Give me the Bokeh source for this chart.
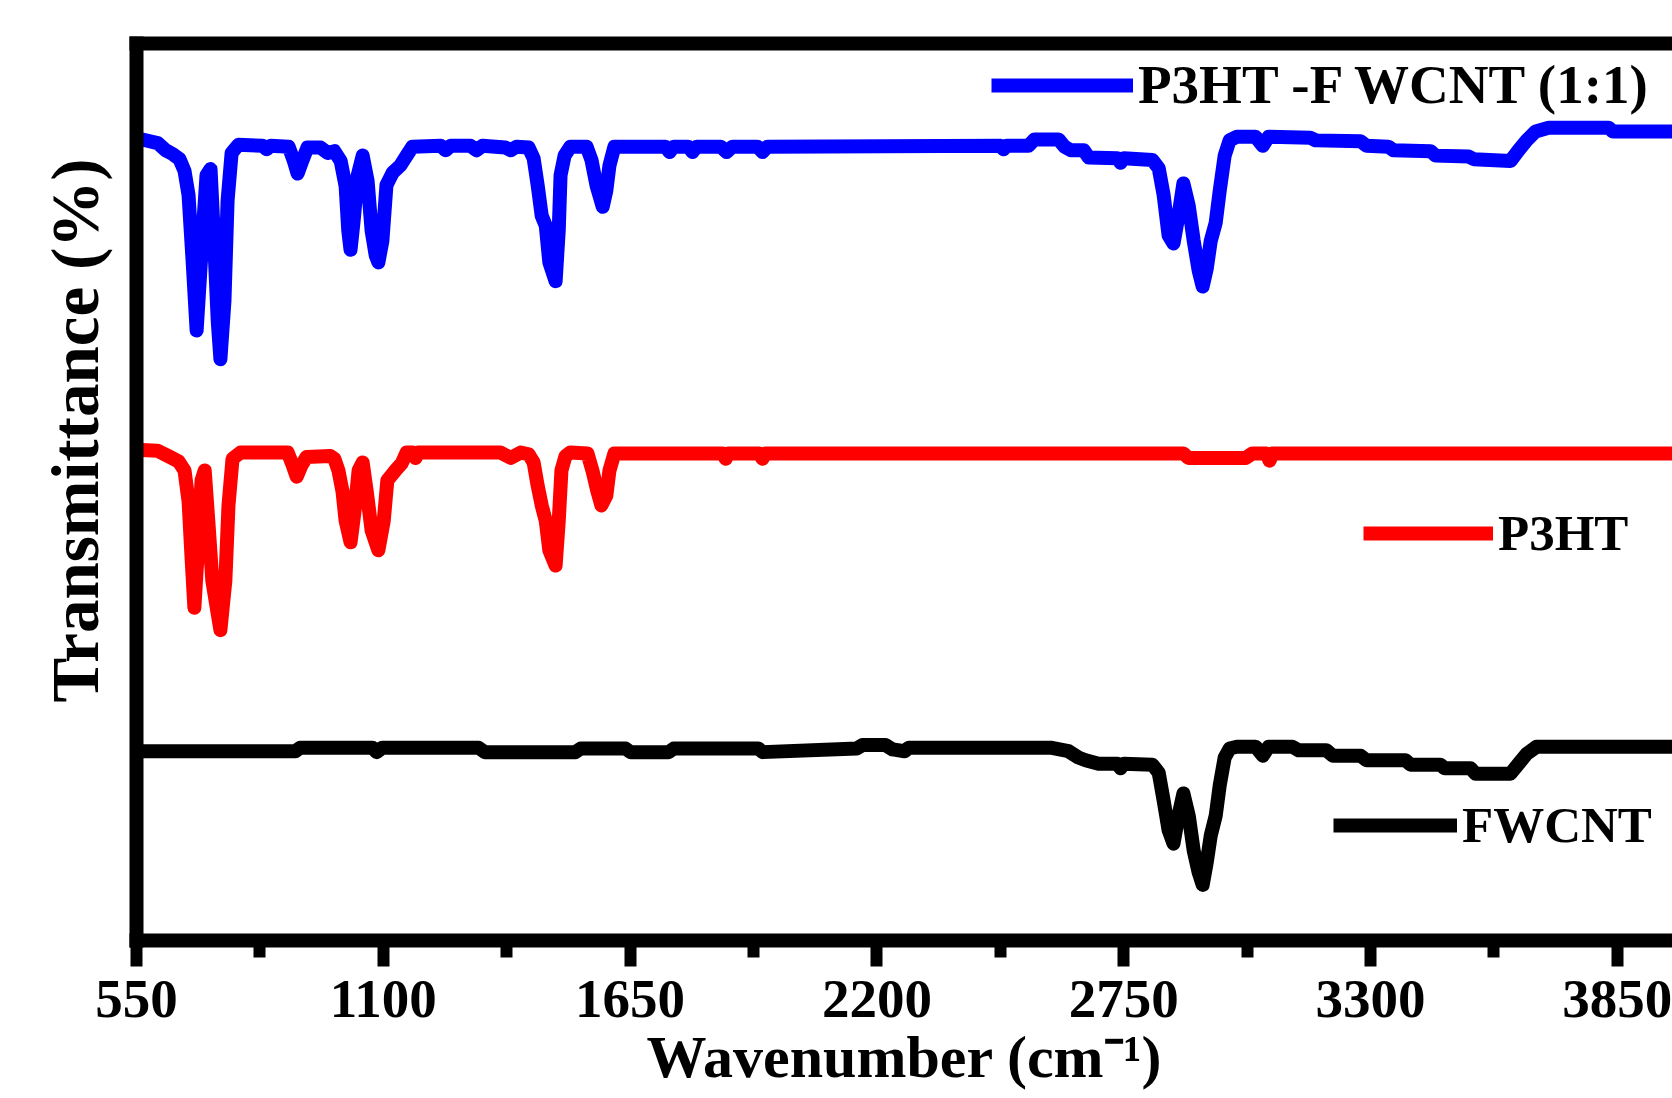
from bokeh.plotting import figure
from bokeh.models import Range1d, FixedTicker, LinearAxis, Legend, LegendItem, Title
from bokeh.embed import file_html
from bokeh.resources import INLINE

# ---------------- data ----------------
major_ticks = [550, 1100, 1650, 2200, 2750, 3300, 3850]
minor_ticks = [825, 1375, 1925, 2475, 3025, 3575]

series_names = ["P3HT -F WCNT (1:1)", "P3HT", "FWCNT"]

wn_composite = [550, 563, 597, 615, 630, 646, 657, 666, 675, 684, 695, 706, 715, 724, 731, 737,
                746, 753, 762, 777, 831, 840, 849, 889, 900, 909, 920, 931, 960, 976, 991, 1005,
                1016, 1022, 1027, 1034, 1043, 1054, 1065, 1074, 1083, 1089, 1098, 1107, 1121, 1138,
                1152, 1165, 1228, 1239, 1250, 1294, 1308, 1321, 1372, 1384, 1397, 1424, 1435, 1444,
                1453, 1462, 1470, 1484, 1491, 1495, 1504, 1517, 1553, 1564, 1575, 1589, 1597, 1604,
                1615, 1729, 1738, 1747, 1780, 1789, 1798, 1852, 1865, 1878, 1934, 1945, 1956, 2476,
                2482, 2489, 2538, 2551, 2605, 2618, 2632, 2661, 2672, 2736, 2743, 2750, 2814, 2828,
                2839, 2850, 2861, 2872, 2883, 2895, 2906, 2917, 2926, 2935, 2944, 2955, 2964, 2975,
                2986, 3002, 3044, 3060, 3073, 3166, 3178, 3278, 3291, 3340, 3351, 3434, 3445, 3519,
                3530, 3612, 3630, 3648, 3668, 3697, 3831, 3840, 3973]
t_composite = [89.0, 89.3, 88.9, 88.1, 87.7, 87.1, 85.8, 83.1, 75.8, 68.0, 76.9, 85.3, 86.0, 76.9, 69.1, 64.8,
               71.3, 82.5, 87.8, 88.7, 88.6, 88.2, 88.6, 88.5, 87.0, 85.5, 87.0, 88.4, 88.4, 87.8, 88.0, 86.9,
               84.1, 79.1, 77.0, 80.3, 85.3, 87.5, 84.7, 79.1, 76.4, 75.6, 78.0, 84.2, 85.6, 86.4,
               87.5, 88.5, 88.6, 88.1, 88.6, 88.6, 88.1, 88.6, 88.4, 88.1, 88.5, 88.4, 87.2, 84.2,
               80.8, 79.7, 75.6, 73.5, 79.2, 85.3, 87.5, 88.5, 88.5, 87.0, 84.2, 81.8, 83.6, 86.4,
               88.5, 88.5, 87.9, 88.5, 88.5, 87.9, 88.5, 88.5, 87.9, 88.5, 88.5, 87.9, 88.5, 88.6,
               88.2, 88.6, 88.6, 89.3, 89.3, 88.5, 88.1, 88.1, 87.3, 87.2, 86.7, 87.2, 87.0, 86.1,
               83.1, 78.6, 77.7, 80.8, 84.4, 81.9, 78.0, 74.7, 72.9, 74.9, 78.0, 80.0, 83.6, 87.5,
               89.2, 89.6, 89.6, 88.6, 89.6, 89.5, 89.2, 89.1, 88.6, 88.5, 88.1, 88.0, 87.5, 87.4,
               87.1, 86.9, 88.1, 89.2, 90.2, 90.6, 90.6, 90.2, 90.2]

wn_p3ht = [550, 597, 621, 644, 657, 666, 673, 679, 688, 695, 702, 710, 719, 737, 748, 755,
           764, 782, 887, 898, 907, 918, 929, 982, 991, 1000, 1009, 1016, 1027, 1036, 1045, 1054,
           1063, 1074, 1089, 1101, 1109, 1127, 1141, 1152, 1165, 1172, 1178, 1361, 1384, 1406,
           1424, 1435, 1444, 1453, 1462, 1470, 1484, 1491, 1497, 1506, 1517, 1555, 1566, 1577,
           1586, 1597, 1604, 1615, 1856, 1863, 1869, 1938, 1945, 1952, 2883, 2894, 3022, 3037,
           3068, 3075, 3082, 3973]
t_p3ht = [54.7, 54.6, 54.0, 53.4, 52.4, 49.0, 42.4, 37.1, 44.6, 51.3, 52.4, 46.8, 40.1, 34.6, 40.1, 48.5,
          53.7, 54.4, 54.4, 53.0, 51.7, 53.0, 53.9, 54.0, 53.7, 52.4, 50.1, 46.8, 44.4, 47.9, 52.4, 53.3,
          50.1, 45.7, 43.5, 46.8, 51.3, 52.4, 53.2, 54.4, 54.4, 53.8, 54.4, 54.4, 53.8, 54.4,
          54.2, 53.3, 50.7, 48.5, 46.8, 43.5, 41.8, 46.8, 52.4, 54.0, 54.4, 54.3, 52.4, 50.1,
          48.5, 49.6, 52.4, 54.3, 54.3, 53.7, 54.3, 54.3, 53.7, 54.3, 54.3, 53.8, 53.8, 54.3,
          54.3, 53.5, 54.3, 54.3]

wn_fwcnt = [550, 904, 915, 1076, 1085, 1098, 1312, 1326, 1528, 1540, 1640, 1651, 1736, 1747, 1936, 1945,
            2155, 2168, 2219, 2235, 2262, 2271, 2587, 2627, 2649, 2665, 2694, 2736, 2743, 2750, 2814, 2828,
            2839, 2850, 2861, 2872, 2883, 2895, 2906, 2917, 2926, 2935, 2944, 2955, 2964, 2975, 2986, 3002,
            3044, 3060, 3073, 3126, 3140, 3202, 3216, 3278, 3291, 3378, 3389, 3456, 3465, 3523, 3534, 3612,
            3630, 3648, 3670, 3973]
t_fwcnt = [21.1, 21.1, 21.5, 21.5, 21.0, 21.5, 21.5, 21.0, 21.0, 21.4, 21.4, 21.0, 21.0, 21.4, 21.4, 21.0,
           21.4, 21.8, 21.8, 21.3, 21.1, 21.5, 21.5, 21.1, 20.4, 20.1, 19.7, 19.7, 19.2, 19.7, 19.6, 18.7,
           15.6, 12.3, 10.8, 13.9, 16.4, 13.9, 10.0, 7.6, 6.2, 8.7, 11.7, 13.9, 17.3, 20.4, 21.4, 21.6,
           21.6, 20.6, 21.6, 21.6, 21.2, 21.2, 20.6, 20.6, 20.1, 20.1, 19.6, 19.6, 19.2, 19.2, 18.6, 18.6,
           19.7, 20.8, 21.6, 21.6]

# ---------------- figure ----------------
FONT = "Liberation Serif"

p = figure(width=1672, height=1098,
           x_range=Range1d(550, 3973), y_range=Range1d(0, 100),
           output_backend="svg", toolbar_location=None,
           min_border_left=136, min_border_right=0,
           min_border_top=43, min_border_bottom=158)
p.outline_line_color = None
p.xgrid.visible = False
p.ygrid.visible = False
p.background_fill_color = "white"
p.border_fill_color = "white"

r_comp = p.line(wn_composite, t_composite, line_color="#0000FF", line_width=14, line_join="round")
r_p3ht = p.line(wn_p3ht, t_p3ht, line_color="#FF0000", line_width=14, line_join="round")
r_fw = p.line(wn_fwcnt, t_fwcnt, line_color="#000000", line_width=14, line_join="round")

# bottom axis
xa = p.xaxis[0]
xa.ticker = FixedTicker(ticks=major_ticks, minor_ticks=minor_ticks)
xa.axis_line_width = 14
xa.axis_line_cap = "square"
xa.major_tick_line_width = 12
xa.major_tick_in = 0
xa.major_tick_out = 26
xa.minor_tick_line_width = 12
xa.minor_tick_in = 0
xa.minor_tick_out = 17
xa.major_label_text_font = FONT
xa.major_label_text_font_style = "bold"
xa.major_label_text_font_size = "55px"
xa.major_label_text_color = "black"
xa.major_label_standoff = 14
xa.axis_label = "Wavenumber (cm\u207b\u00b9)"
xa.axis_label_text_font = FONT
xa.axis_label_text_font_style = "bold"
xa.axis_label_text_font_size = "60px"
xa.axis_label_text_color = "black"
xa.axis_label_standoff = 4

# left axis (line only)
ya = p.yaxis[0]
ya.ticker = FixedTicker(ticks=[])
ya.axis_line_width = 14
ya.axis_line_cap = "square"
ya.major_tick_line_color = None
ya.minor_tick_line_color = None
ya.major_tick_out = 0
ya.minor_tick_out = 0
ya.major_label_standoff = 0
ya.major_label_text_font_size = "0px"

# top frame line
top = LinearAxis(ticker=FixedTicker(ticks=[]), axis_line_width=14, axis_line_cap="square",
                 major_tick_line_color=None, minor_tick_line_color=None,
                 major_tick_out=0, minor_tick_out=0,
                 major_label_text_font_size="0px")
p.add_layout(top, "above")

# y title (placed toward the top of the frame, as in the original)
ytitle = Title(text="Transmittance (%)", align="right", offset=115,
               text_font=FONT, text_font_style="bold", text_font_size="67px",
               text_color="black")
try:
    ytitle.standoff = 50
except AttributeError:
    pass
p.add_layout(ytitle, "left")

# legends placed next to each curve
def make_legend(name, renderer, loc, gw, fs):
    return Legend(items=[LegendItem(label=name, renderers=[renderer])],
                  location=loc, glyph_width=gw, glyph_height=60, label_height=60,
                  label_standoff=5, padding=0, margin=0, spacing=0,
                  border_line_color=None, background_fill_alpha=0,
                  label_text_font=FONT, label_text_font_style="bold",
                  label_text_font_size=fs, label_text_color="black")

p.add_layout(make_legend(series_names[0], r_comp, (855, 824), 142, "55px"))
p.add_layout(make_legend(series_names[1], r_p3ht, (1227, 377), 130, "51px"))
p.add_layout(make_legend(series_names[2], r_fw, (1197, 85), 124, "51px"))

open("out.html", "w").write(file_html(p, INLINE))
